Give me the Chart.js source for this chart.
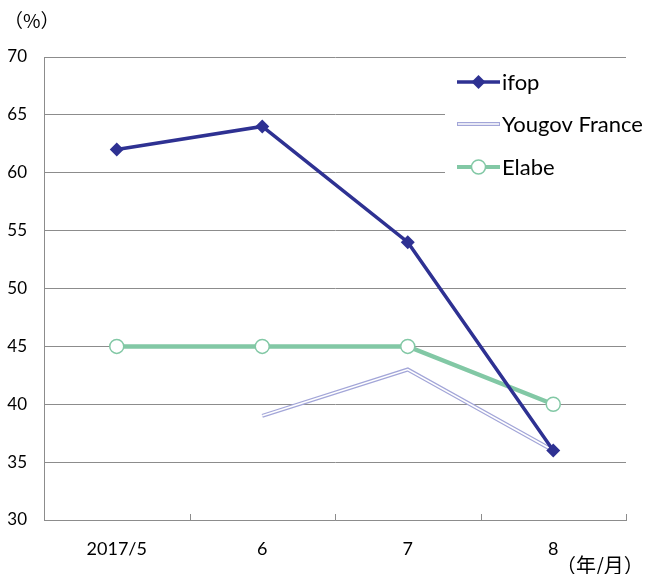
<!DOCTYPE html>
<html><head><meta charset="utf-8">
<script src="https://cdn.jsdelivr.net/npm/chart.js@4/dist/chart.umd.min.js"></script>
<style>html,body{margin:0;padding:0;background:#fff}#wrap{width:646px;height:574px}</style>
</head><body><div id="wrap"><canvas id="c" width="646" height="574"></canvas></div>
<script>
const categories = ['2017/5', '6', '7', '8'];
const ifop = [62, 64, 54, 36];
const yougov = [null, 39, 43, 36];
const elabe = [45, 45, 45, 40];
const seriesNames = ['ifop', 'Yougov France', 'Elabe'];
const yUnit = '（%）';
const xUnit = '（年/月）';

const C_IFOP = '#2E3192', C_YOU = '#A3A6D8', C_ELA = '#82C8A5', GRID = '#8C8C8C';
const FONT = "Lato, 'Noto Sans', sans-serif";

const deco = {
  id: 'deco',
  beforeDatasetsDraw(chart) {
    const ctx = chart.ctx, x = chart.scales.x, a = chart.chartArea;
    ctx.save();
    ctx.strokeStyle = GRID; ctx.lineWidth = 1;
    const n = categories.length;
    for (let i = 0; i <= n; i++) {
      const px = Math.round(x.left + i * (x.right - x.left) / n) + 0.5;
      ctx.beginPath(); ctx.moveTo(px, a.bottom - 6); ctx.lineTo(px, a.bottom); ctx.stroke();
    }
    ctx.fillStyle = '#fff';
    ctx.fillRect(445, 64, 200, 136);
    ctx.restore();
  },
  afterDraw(chart) {
    const ctx = chart.ctx;
    ctx.save();
    ctx.fillStyle = '#000';
    ctx.textBaseline = 'middle';
    ctx.textAlign = 'left';
    ctx.font = "19px 'Noto Sans CJK JP', " + FONT;
    ctx.fillText(yUnit, 4, 21);
    ctx.font = "20px 'Noto Sans CJK JP', " + FONT;
    ctx.fillText(xUnit, 556, 565);
    // legend
    const rows = [82, 124, 167];
    const x0 = 457, x1 = 500, xm = (x0 + x1) / 2;
    ctx.font = "22px " + FONT;
    rows.forEach((y, i) => {
      if (i === 0) {
        ctx.strokeStyle = C_IFOP; ctx.lineWidth = 3.5;
        ctx.beginPath(); ctx.moveTo(x0, y); ctx.lineTo(x1, y); ctx.stroke();
        ctx.fillStyle = C_IFOP;
        ctx.beginPath(); ctx.moveTo(xm, y - 7); ctx.lineTo(xm + 7, y); ctx.lineTo(xm, y + 7); ctx.lineTo(xm - 7, y); ctx.closePath(); ctx.fill();
      } else if (i === 1) {
        ctx.strokeStyle = C_YOU; ctx.lineWidth = 4;
        ctx.beginPath(); ctx.moveTo(x0, y); ctx.lineTo(x1, y); ctx.stroke();
        ctx.strokeStyle = '#fff'; ctx.lineWidth = 1.6;
        ctx.beginPath(); ctx.moveTo(x0 + 1, y); ctx.lineTo(x1 - 1, y); ctx.stroke();
      } else {
        ctx.strokeStyle = C_ELA; ctx.lineWidth = 4;
        ctx.beginPath(); ctx.moveTo(x0, y); ctx.lineTo(x1, y); ctx.stroke();
        ctx.fillStyle = '#fff'; ctx.lineWidth = 1.5;
        ctx.beginPath(); ctx.arc(xm, y, 7, 0, Math.PI * 2); ctx.fill(); ctx.stroke();
      }
      ctx.fillStyle = '#000';
      ctx.fillText(seriesNames[i], x1 + 2, y + 1);
    });
    ctx.restore();
  }
};

new Chart(document.getElementById('c'), {
  type: 'line',
  data: {
    labels: categories,
    datasets: [
      { label: seriesNames[1], data: yougov, borderColor: C_YOU, borderWidth: 4, pointRadius: 0, spanGaps: false, order: 3, borderJoinStyle: 'miter' },
      { label: '_yougovInner', data: yougov, borderColor: '#fff', borderWidth: 1.6, pointRadius: 0, order: 2, borderJoinStyle: 'miter' },
      { label: seriesNames[2], data: elabe, borderColor: C_ELA, borderWidth: 4.5, pointStyle: 'circle', pointRadius: 7, pointBackgroundColor: '#fff', pointBorderColor: C_ELA, pointBorderWidth: 1.5, order: 1 },
      { label: seriesNames[0], data: ifop, borderColor: C_IFOP, borderWidth: 3.5, pointStyle: 'rectRot', pointRadius: 7, pointBackgroundColor: C_IFOP, pointBorderColor: C_IFOP, pointBorderWidth: 0, order: 0 }
    ]
  },
  options: {
    responsive: false, animation: false,
    layout: { padding: { top: 57, right: 20, left: 0, bottom: 0 } },
    plugins: { legend: { display: false }, tooltip: { enabled: false } },
    elements: { line: { tension: 0 } },
    scales: {
      x: {
        offset: true,
        grid: { display: false },
        border: { display: true, color: GRID, width: 1 },
        ticks: { color: '#000', font: { family: FONT, size: 18 }, padding: 10, maxRotation: 0 },
        afterFit(s) { s.height = 54; }
      },
      y: {
        min: 30, max: 70,
        ticks: { stepSize: 5, color: '#000', font: { family: FONT, size: 17 }, padding: 17 },
        grid: { color: GRID, drawTicks: false, lineWidth: 1 },
        border: { display: true, color: GRID, width: 1 },
        afterFit(s) { s.width = 44; }
      }
    }
  },
  plugins: [deco]
});
</script>
</body></html>
